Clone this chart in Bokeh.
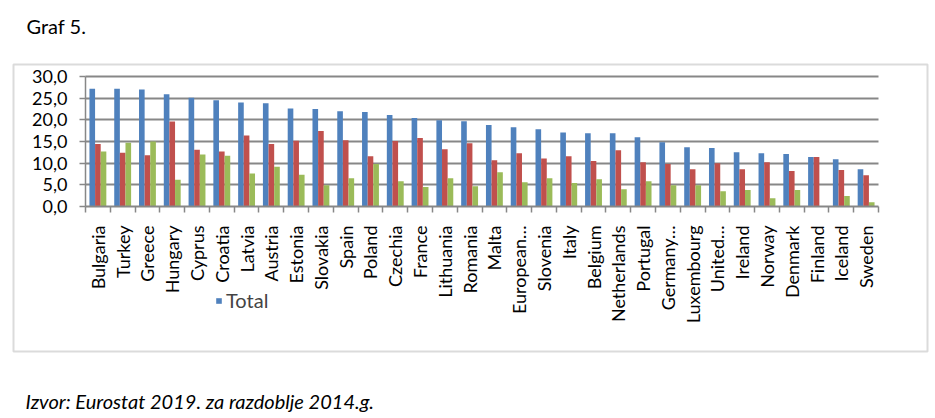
import math
from bokeh.plotting import figure
from bokeh.models import (ColumnDataSource, FixedTicker, Range1d, Label,
                          BoxAnnotation, Legend, LegendItem)
from bokeh.transform import dodge
from bokeh.embed import file_html
from bokeh.resources import INLINE

countries = ["Bulgaria", "Turkey", "Greece", "Hungary", "Cyprus", "Croatia",
             "Latvia", "Austria", "Estonia", "Slovakia", "Spain", "Poland",
             "Czechia", "France", "Lithuania", "Romania", "Malta", "European…",
             "Slovenia", "Italy", "Belgium", "Netherlands", "Portugal",
             "Germany…", "Luxembourg", "United…", "Ireland", "Norway",
             "Denmark", "Finland", "Iceland", "Sweden"]
total = [27.2, 27.2, 27.0, 25.9, 25.1, 24.5, 24.0, 23.8, 22.6, 22.5, 22.0,
         21.8, 21.1, 20.4, 19.9, 19.7, 18.8, 18.3, 17.8, 17.1, 16.9, 16.9,
         16.0, 14.8, 13.7, 13.5, 12.5, 12.3, 12.1, 11.4, 10.9, 8.6]
series_2 = [14.4, 12.4, 11.8, 19.6, 13.1, 12.7, 16.4, 14.4, 15.2, 17.4, 15.3,
            11.6, 15.1, 15.8, 13.2, 14.6, 10.7, 12.3, 11.1, 11.6, 10.5, 13.0,
            10.2, 9.8, 8.6, 10.0, 8.6, 10.2, 8.2, 11.4, 8.4, 7.2]
series_3 = [12.7, 14.7, 15.0, 6.2, 12.0, 11.7, 7.6, 9.2, 7.3, 4.9, 6.5,
            9.8, 5.8, 4.5, 6.5, 4.7, 7.9, 5.6, 6.5, 5.4, 6.3, 4.0,
            5.8, 4.9, 4.9, 3.5, 3.8, 1.9, 3.8, 0.0, 2.4, 1.0]
y_ticks = [0, 5, 10, 15, 20, 25, 30]
y_tick_labels = ["0,0", "5,0", "10,0", "15,0", "20,0", "25,0", "30,0"]
title_text = "Graf 5."
source_text = "Izvor: Eurostat 2019. za razdoblje 2014.g."

FONT = "Lato"
GRID = "#878787"
BLUE, RED, GREEN = "#4F81BD", "#C0504D", "#9BBB59"

n = len(countries)
centers = [i + 0.5 for i in range(n)]
src = ColumnDataSource(dict(x=centers, total=total, s2=series_2, s3=series_3))

# canvas size and pixel placement of the data area (frame = full canvas)
W, H = 932, 414
PX_L, PX_R, PX_T, PX_B = 85, 878, 76, 206
Y_MAX = 30
xs = (PX_R - PX_L) / n
ys = (PX_B - PX_T) / Y_MAX
x_range = Range1d(-PX_L / xs, n + (W - PX_R) / xs)
y_range = Range1d(-(H - PX_B) / ys, Y_MAX + PX_T / ys)

p = figure(width=W, height=H, output_backend="svg", toolbar_location=None,
           x_range=x_range, y_range=y_range,
           min_border_left=0, min_border_right=0, min_border_top=0,
           min_border_bottom=0, background_fill_color="white",
           border_fill_color="white", outline_line_color=None)

# grid lines limited to the data area
p.xgrid.visible = False
grid_ok = True
try:
    p.ygrid.cross_bounds = (0, n)
except Exception:
    grid_ok = False
if grid_ok:
    p.ygrid.ticker = FixedTicker(ticks=y_ticks[1:])
    p.ygrid.grid_line_color = GRID
    p.ygrid.grid_line_width = 2
else:
    p.ygrid.visible = False
    gt = y_ticks[1:]
    p.segment(x0=[0] * len(gt), x1=[n] * len(gt), y0=gt, y1=gt,
              line_color=GRID, line_width=2)

bw = 0.227
r_total = p.vbar(x=dodge("x", -bw, range=p.x_range), top="total", width=bw,
                 source=src, fill_color=BLUE, line_color=None)
p.vbar(x=dodge("x", 0, range=p.x_range), top="s2", width=bw,
       source=src, fill_color=RED, line_color=None)
p.vbar(x=dodge("x", bw, range=p.x_range), top="s3", width=bw,
       source=src, fill_color=GREEN, line_color=None)

# y axis
ya = p.yaxis[0]
ya.fixed_location = 0
ya.bounds = (0, Y_MAX)
ya.ticker = FixedTicker(ticks=y_ticks)
ya.major_label_overrides = {t: l for t, l in zip(y_ticks, y_tick_labels)}
ya.axis_line_color = GRID
ya.axis_line_width = 1.5
ya.major_tick_line_color = GRID
ya.major_tick_line_width = 1.5
ya.major_tick_out = 6
ya.major_tick_in = 0
ya.minor_tick_line_color = None
ya.major_label_text_font = FONT
ya.major_label_text_font_size = "18px"
ya.major_label_text_color = "black"
ya.major_label_standoff = 12

# x axis: labels at centers, ticks at category boundaries (minor)
xa = p.xaxis[0]
xa.fixed_location = 0
xa.bounds = (0, n)
xa.ticker = FixedTicker(ticks=centers, minor_ticks=list(range(n + 1)))
xa.major_label_overrides = {c: name for c, name in zip(centers, countries)}
xa.major_label_orientation = math.pi / 2
xa.major_tick_line_color = None
xa.major_tick_out = 0
xa.major_tick_in = 0
xa.minor_tick_line_color = GRID
xa.minor_tick_line_width = 1.5
xa.minor_tick_out = 6
xa.minor_tick_in = 0
xa.axis_line_color = GRID
xa.axis_line_width = 2
xa.major_label_text_font = FONT
xa.major_label_text_font_size = "18px"
xa.major_label_text_color = "black"
xa.major_label_standoff = 13

legend = Legend(items=[LegendItem(label="Total", renderers=[r_total])],
                location=(215, H - 312), orientation="horizontal",
                glyph_width=7, glyph_height=7, label_height=20,
                label_text_font=FONT, label_text_font_size="20px",
                label_standoff=4, padding=0, margin=0, spacing=0,
                border_line_color=None, background_fill_alpha=0)
p.add_layout(legend)

p.add_layout(Label(x=26, y=H - 25, x_units="screen", y_units="screen",
                   text=title_text, text_font=FONT,
                   text_font_size="20px", text_color="black",
                   text_baseline="alphabetic"))
p.add_layout(Label(x=25, y=H - 400, x_units="screen", y_units="screen",
                   text=source_text, text_font=FONT,
                   text_font_size="20px", text_font_style="italic",
                   text_color="black", text_baseline="alphabetic"))

# outer chart border
p.add_layout(BoxAnnotation(left=13, right=927, top=H - 64, bottom=H - 351,
                           left_units="screen", right_units="screen",
                           top_units="screen", bottom_units="screen",
                           fill_alpha=0, fill_color=None,
                           line_color=GRID, line_width=2))

open("out.html", "w").write(file_html(p, INLINE))
